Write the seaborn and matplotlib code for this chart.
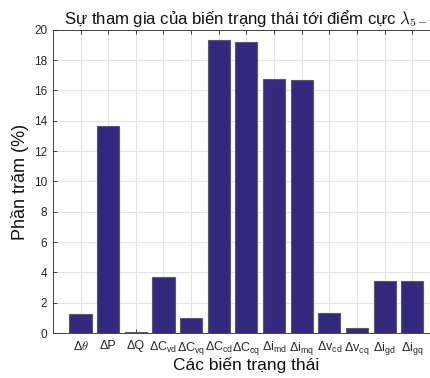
import matplotlib
matplotlib.use("Agg")
import matplotlib.pyplot as plt
import seaborn as sns
import pandas as pd

categories = ["Δ$\\theta$", "ΔP", "ΔQ",
              "ΔC$_{\\mathregular{vd}}$", "ΔC$_{\\mathregular{vq}}$",
              "ΔC$_{\\mathregular{cd}}$", "ΔC$_{\\mathregular{cq}}$",
              "Δi$_{\\mathregular{md}}$", "Δi$_{\\mathregular{mq}}$",
              "Δv$_{\\mathregular{cd}}$", "Δv$_{\\mathregular{cq}}$",
              "Δi$_{\\mathregular{gd}}$", "Δi$_{\\mathregular{gq}}$"]
values = [1.25, 13.65, 0.1, 3.7, 1.0, 19.33, 19.2, 16.77, 16.7, 1.3, 0.35, 3.43, 3.45]
yticks = [0, 2, 4, 6, 8, 10, 12, 14, 16, 18, 20]

sns.set_theme(style="white")
plt.rcParams['font.family'] = ['Liberation Sans', 'DejaVu Sans']
plt.rcParams['mathtext.fontset'] = 'custom'
plt.rcParams['mathtext.rm'] = 'Liberation Sans'
plt.rcParams['mathtext.it'] = 'Liberation Sans:italic'

df = pd.DataFrame({"cat": categories, "val": values})

fig = plt.figure(figsize=(4.30, 3.78), dpi=100)
ax = fig.add_axes([0.123, 0.119, 0.9, 0.802])
sns.barplot(data=df, x="cat", y="val", ax=ax, color="#34297f", saturation=1,
            width=0.8, edgecolor="#5a5a6a", linewidth=0.8, zorder=3)

ax.set_xlim(-1, 13)
ax.set_ylim(0, 20)
ax.set_yticks(yticks)
ax.set_xticks(range(len(categories)))
ax.set_xticklabels(categories)
ax.get_xticklabels()[0].set_math_fontfamily("cm")
ax.grid(True, color="#e3e3e3", linewidth=0.8, zorder=0)
ax.set_axisbelow(True)
for s in ax.spines.values():
    s.set_color("#262626")
    s.set_linewidth(0.6)
ax.tick_params(axis="both", which="both", direction="in", length=3, width=0.6,
               color="#262626", labelsize=8.5, labelcolor="#262626",
               top=True, right=True, left=True, bottom=True)
ax.tick_params(axis="x", pad=5, labelsize=9)
ax.tick_params(axis="y", pad=4)

ax.set_xlabel("Các biến trạng thái", fontsize=12.5, color="#111111", labelpad=0)
ax.set_ylabel("Phần trăm (%)", fontsize=13, color="#111111", labelpad=4)
ax.set_title(r"Sự tham gia của biến trạng thái tới điểm cực $\lambda_{5-}$",
             fontsize=12.1, color="#111111", pad=4, math_fontfamily="cm")

fig.savefig("out.png", dpi=100)
